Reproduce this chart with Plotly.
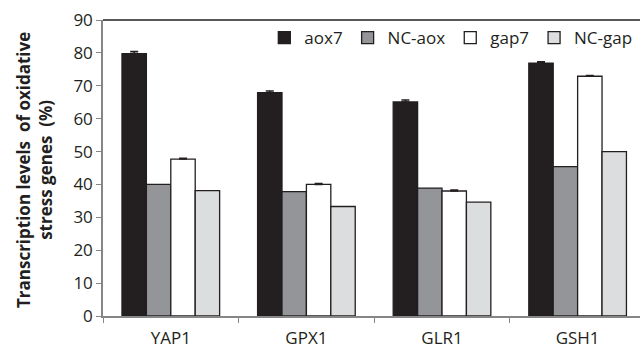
import plotly.graph_objects as go

genes = ["YAP1", "GPX1", "GLR1", "GSH1"]
series_names = ["aox7", "NC-aox", "gap7", "NC-gap"]
aox7 = [79.8, 67.9, 65.1, 76.9]
nc_aox = [40.0, 37.8, 38.9, 45.4]
gap7 = [47.7, 40.0, 38.0, 72.9]
nc_gap = [38.1, 33.3, 34.6, 50.0]
aox7_err = [0.6, 0.5, 0.6, 0.4]
gap7_err = [0.3, 0.3, 0.3, 0.2]
y_ticks = [0, 10, 20, 30, 40, 50, 60, 70, 80, 90]

values = [aox7, nc_aox, gap7, nc_gap]
errors = [aox7_err, None, gap7_err, None]
colors = ["#231f20", "#939598", "#ffffff", "#dcdddf"]

FONT = "Open Sans"
fig = go.Figure()
for name, vals, err, col in zip(series_names, values, errors, colors):
    kw = {}
    if err is not None:
        kw["error_y"] = dict(type="data", array=err, arrayminus=[0] * len(err),
                             symmetric=False, color="#231f20", thickness=1.5, width=4)
    fig.add_trace(go.Bar(x=genes, y=vals, name=name, marker=dict(color=col,
                         line=dict(color="#231f20", width=1.3)), **kw))

fig.update_layout(
    width=640, height=352,
    margin=dict(l=103, r=0, t=20, b=36),
    paper_bgcolor="white", plot_bgcolor="white",
    barmode="group", bargap=0.28, bargroupgap=0,
    font=dict(family=FONT, size=17, color="#231f20"),
    showlegend=True,
    legend=dict(orientation="h", x=0.995, xanchor="right", y=1, yanchor="top",
                bgcolor="rgba(0,0,0,0)", font=dict(size=17), traceorder="normal"),
    xaxis=dict(range=[-0.5, 3.46], showline=True, linecolor="#868686", linewidth=1.5,
               ticks="outside", tickson="boundaries", ticklen=5, tickcolor="#868686",
               showgrid=False, zeroline=False, tickfont=dict(size=17),
               ticklabelstandoff=6),
    yaxis=dict(range=[0, 90], tickvals=y_ticks, showline=True, linecolor="#868686",
               linewidth=1.5, ticks="outside", ticklen=5, tickcolor="#868686",
               showgrid=False, zeroline=False, tickfont=dict(size=17)),
    shapes=[dict(type="line", xref="paper", yref="paper", x0=0, x1=1, y0=1, y1=1,
                 line=dict(color="#231f20", width=1.5))],
    annotations=[dict(text="<b>Transcription levels&nbsp; of oxidative<br>stress genes&nbsp; (%)</b>",
                      xref="paper", yref="paper", x=-0.1285, y=0.493, xanchor="center",
                      yanchor="middle", textangle=-90, showarrow=False,
                      font=dict(size=17, family=FONT))],
)
fig.write_html("out.html")
